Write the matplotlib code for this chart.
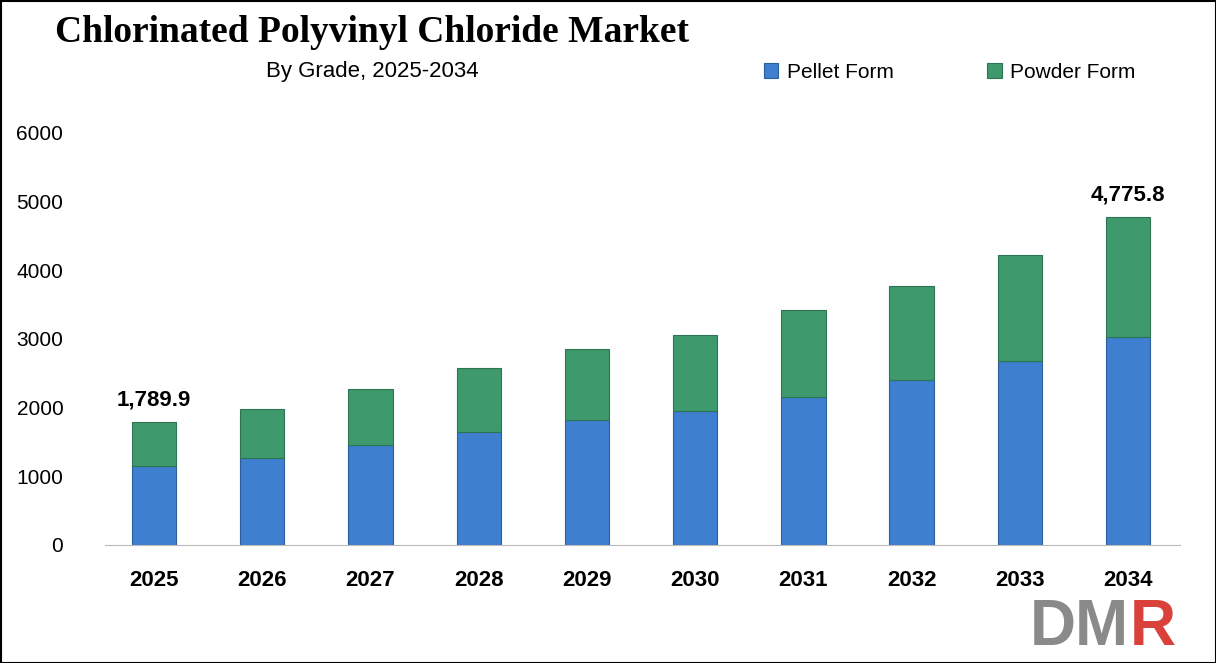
import matplotlib
matplotlib.use("Agg")
import matplotlib.pyplot as plt
from matplotlib.patches import Rectangle

plt.rcParams["font.family"] = "Liberation Sans"

years = ["2025","2026","2027","2028","2029","2030","2031","2032","2033","2034"]
pellet = [1150, 1266, 1455, 1645, 1820, 1950, 2154, 2402, 2678, 3028]
total = [1789.9, 1980, 2270, 2576, 2853, 3057, 3420, 3770, 4221, 4775.8]
powder = [t - p for t, p in zip(total, pellet)]
yticks = [0, 1000, 2000, 3000, 4000, 5000, 6000]

W, H = 1216, 663
fig = plt.figure(figsize=(W/100, H/100), dpi=100)
ax = fig.add_axes([105/W, 1-545/H, (1180-105)/W, (545-133)/H])
x = range(len(years))
blue, green = "#3f7fcf", "#3e9a6d"
ax.bar(x, pellet, width=0.41, color=blue, edgecolor="#2a5f9e", linewidth=0.8, label="Pellet Form")
ax.bar(x, powder, bottom=pellet, width=0.41, color=green, edgecolor="#2d7552", linewidth=0.8, label="Powder Form")
ax.set_ylim(0, 6000)
ax.set_xlim(-0.453, 9.48)
ax.set_yticks(yticks)
ax.set_xticks(list(x))
ax.set_xticklabels(years, fontweight="bold", fontsize=16)
ax.tick_params(axis="y", labelsize=15, length=0, pad=30)
ax.tick_params(axis="x", length=0, pad=18)
for s in ["top", "right", "left"]:
    ax.spines[s].set_visible(False)
ax.spines["bottom"].set_color("#bbbbbb")
for i in (0, 9):
    ax.text(i, total[i] + 170, f"{total[i]:,.1f}", ha="center", va="bottom", fontsize=16, fontweight="bold")
fig.text(55/W, 1-33/H, "Chlorinated Polyvinyl Chloride Market", fontsize=27, fontweight="bold",
         family="Liberation Serif", va="center")
fig.text(372/W, 1-72/H, "By Grade, 2025-2034", fontsize=16, ha="center", va="center")
ax.legend(loc="upper left", bbox_to_anchor=(745/W, 1-44/H), bbox_transform=fig.transFigure,
          ncol=2, frameon=False, fontsize=15, handlelength=0.7, handleheight=0.7,
          columnspacing=4.5, handletextpad=0.4)
fig.text(1030/W, 1-628/H, "DM", fontsize=46, fontweight="bold", color="#8a8a8a", va="center")
fig.text(1130/W, 1-628/H, "R", fontsize=46, fontweight="bold", color="#d9413a", va="center")
fig.patches.append(Rectangle((0.5/W, 0.5/H), 1-1/W, 1-1/H, transform=fig.transFigure,
                             fill=False, edgecolor="black", linewidth=1.5))
fig.savefig("out.png", dpi=100)
